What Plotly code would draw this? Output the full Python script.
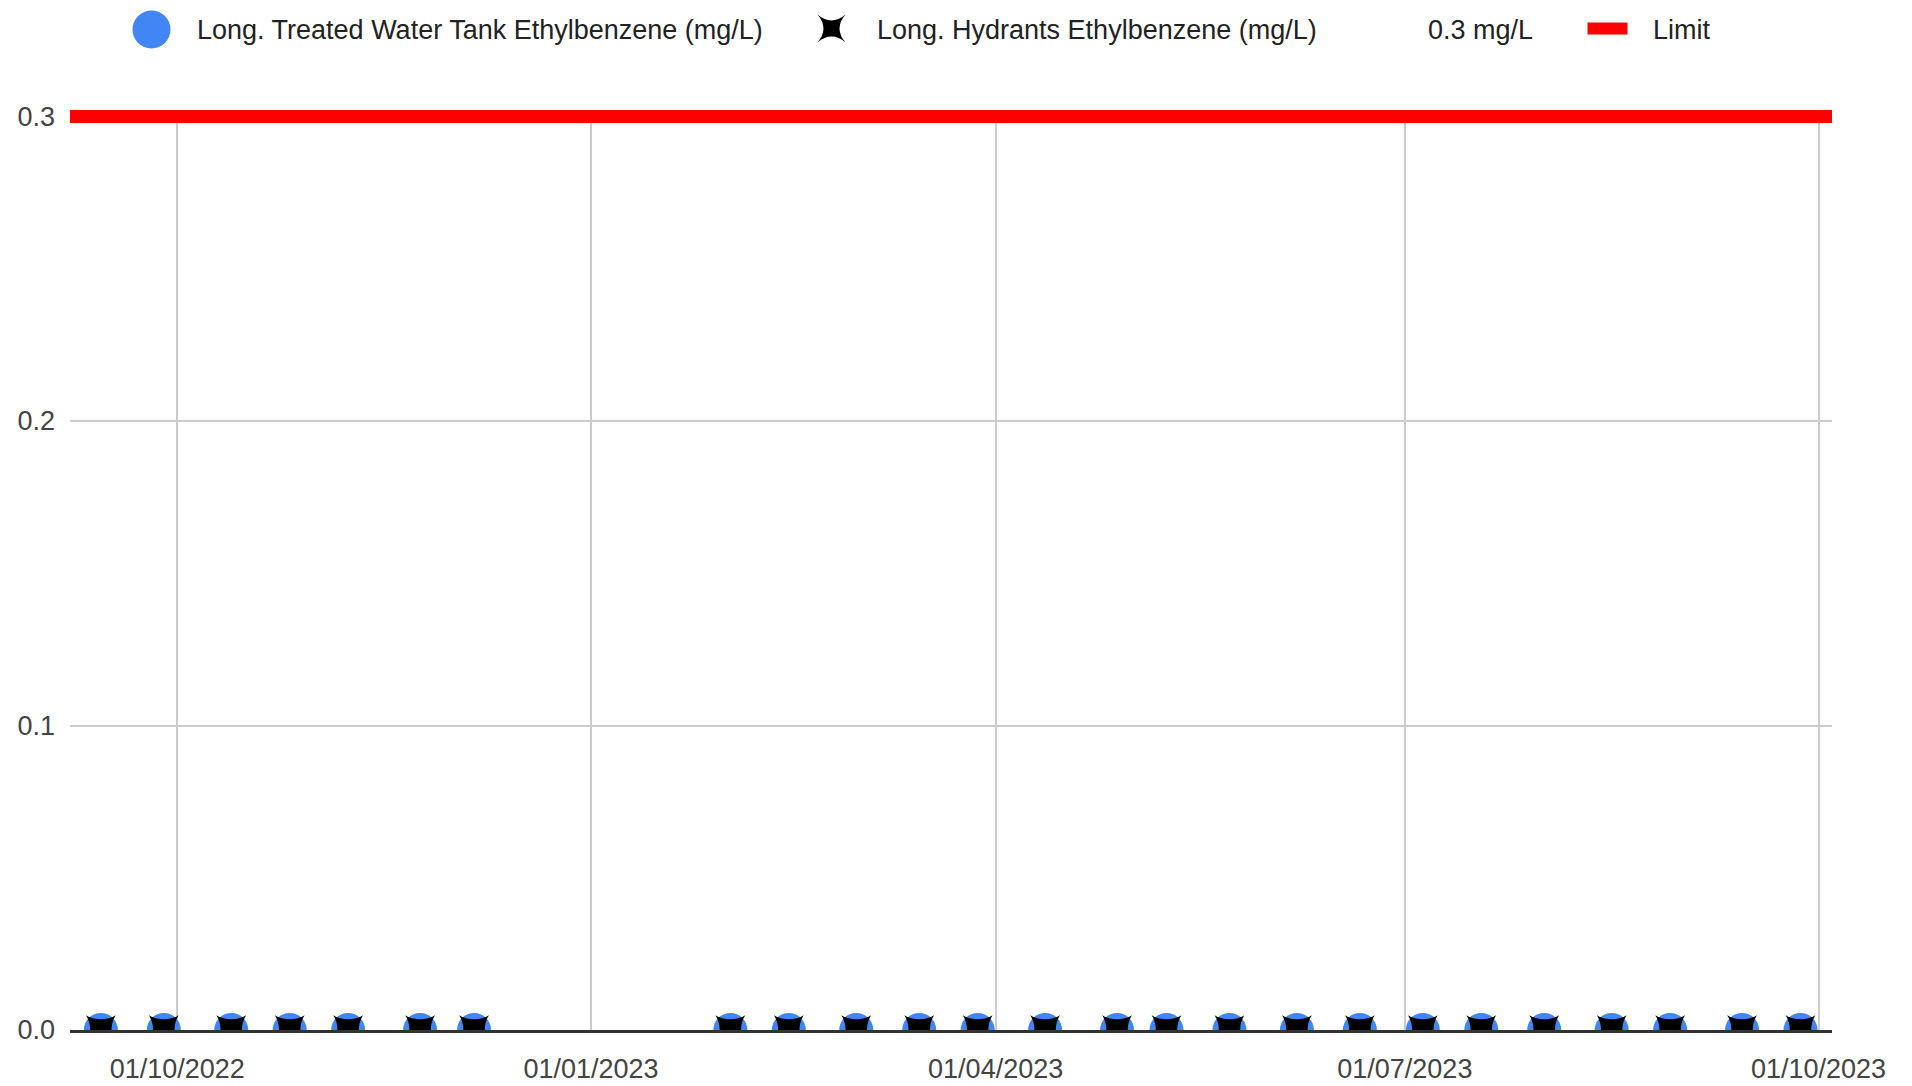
import plotly.graph_objects as go

# ---- data ----
sample_dates = [
    "2022-09-14", "2022-09-28", "2022-10-13", "2022-10-26", "2022-11-08",
    "2022-11-24", "2022-12-06", "2023-02-01", "2023-02-14", "2023-03-01",
    "2023-03-15", "2023-03-28", "2023-04-12", "2023-04-28", "2023-05-09",
    "2023-05-23", "2023-06-07", "2023-06-21", "2023-07-05", "2023-07-18",
    "2023-08-01", "2023-08-16", "2023-08-29", "2023-09-14", "2023-09-27",
]
tank_values = [0.0] * 25
hydrant_values = [0.0] * 25
limit_value = 0.3
x_range = ["2022-09-07 03:20", "2023-10-04 00:00"]
y_range = [0.0, 0.30213]
x_tick_vals = ["2022-10-01", "2023-01-01", "2023-04-01", "2023-07-01", "2023-10-01"]
x_tick_text = ["01/10/2022", "01/01/2023", "01/04/2023", "01/07/2023", "01/10/2023"]
y_tick_vals = [0.0, 0.1, 0.2, 0.3]
y_tick_text = ["0.0", "0.1", "0.2", "0.3"]
series_names = ["Long. Treated Water Tank Ethylbenzene (mg/L)",
                "Long. Hydrants Ethylbenzene (mg/L)", "0.3 mg/L", "Limit"]

# ---- layout geometry ----
W, H = 1912, 1086
L, R, T, B = 69.5, 80.4, 109.5, 55.6
FONT = "Liberation Sans, Arial, sans-serif"
FS = 27

fig = go.Figure()
fig.add_trace(go.Scatter(
    x=sample_dates, y=tank_values, mode="markers", name=series_names[0],
    marker=dict(symbol="circle", size=34, color="#4285F4", line=dict(width=0)),
    showlegend=False, hoverinfo="x+y"))
fig.add_trace(go.Scatter(
    x=sample_dates, y=hydrant_values, mode="markers", name=series_names[1],
    marker=dict(symbol="star-diamond", angle=45, size=30, color="#000000",
                line=dict(width=0)),
    showlegend=False, hoverinfo="x+y"))
fig.add_trace(go.Scatter(
    x=x_range, y=[limit_value, limit_value], mode="lines", name=series_names[3],
    line=dict(color="#FF0000", width=13), cliponaxis=False,
    showlegend=False, hoverinfo="y"))


def ann(text, px, py):
    return dict(text=text, x=0, y=1, xref="paper", yref="paper",
                xanchor="left", yanchor="middle", showarrow=False,
                xshift=px - L, yshift=T - py, borderpad=0, borderwidth=0,
                font=dict(family=FONT, size=FS, color="#222222"))


annotations = [
    ann(series_names[0], 196, 29),
    ann(series_names[1], 876, 29),
    ann(series_names[2], 1427, 29),
    ann(series_names[3], 1652, 29),
]

shapes = []
# legend circle
cx, cy, rr = 151 - L, T - 29, 19
shapes.append(dict(type="circle", xref="paper", yref="paper",
                   xsizemode="pixel", ysizemode="pixel", xanchor=0, yanchor=1,
                   x0=cx - rr, x1=cx + rr, y0=cy - rr, y1=cy + rr,
                   fillcolor="#4285F4", line=dict(width=0)))
# legend X (4-point star rotated)
cx, cy, a = 831 - L, T - 28, 14
c = 0.15 * a
path = (f"M{cx+a},{cy+a} Q{cx+c},{cy} {cx+a},{cy-a} "
        f"Q{cx},{cy-c} {cx-a},{cy-a} Q{cx-c},{cy} {cx-a},{cy+a} "
        f"Q{cx},{cy+c} {cx+a},{cy+a} Z")
shapes.append(dict(type="path", xref="paper", yref="paper",
                   xsizemode="pixel", ysizemode="pixel", xanchor=0, yanchor=1,
                   path=path, fillcolor="#000000", line=dict(width=0)))
# legend red rect
shapes.append(dict(type="rect", xref="paper", yref="paper",
                   xsizemode="pixel", ysizemode="pixel", xanchor=0, yanchor=1,
                   x0=1587 - L, x1=1627 - L, y0=T - 34, y1=T - 22,
                   fillcolor="#FF0000", line=dict(width=0)))

fig.update_layout(
    width=W, height=H, autosize=False,
    margin=dict(l=L, r=R, t=T, b=B, pad=0),
    paper_bgcolor="white", plot_bgcolor="white",
    font=dict(family=FONT, size=FS, color="#444444"),
    showlegend=False,
    annotations=annotations, shapes=shapes,
    xaxis=dict(type="date", range=x_range, tickvals=x_tick_vals,
               ticktext=x_tick_text, showgrid=True, gridcolor="#cccccc",
               gridwidth=2, zeroline=False, showline=True, linecolor="#333333",
               linewidth=3, layer="above traces", ticks="",
               ticklabelstandoff=13, automargin=False,
               tickfont=dict(family=FONT, size=FS, color="#444444")),
    yaxis=dict(range=y_range, tickvals=y_tick_vals, ticktext=y_tick_text,
               showgrid=True, gridcolor="#cccccc", gridwidth=2,
               zeroline=False, showline=False, ticks="",
               ticklabelstandoff=14, automargin=False,
               tickfont=dict(family=FONT, size=FS, color="#444444")),
)

fig.write_html(
    "out.html",
    config={"displayModeBar": False},
    post_script="document.body.style.margin='0';document.body.style.overflow='hidden';",
)
